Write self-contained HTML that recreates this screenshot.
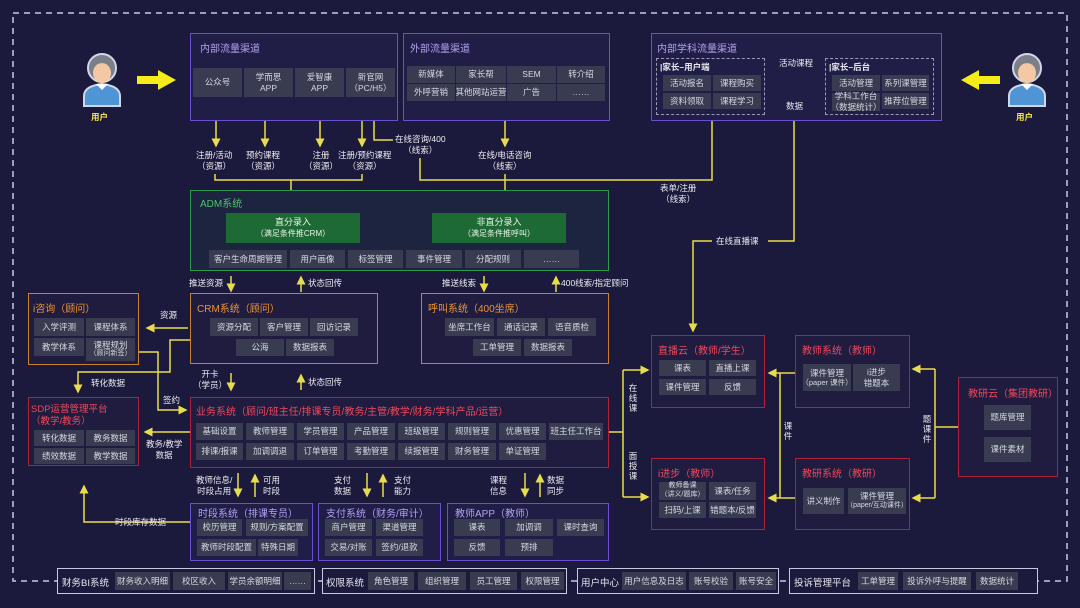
<!DOCTYPE html>
<html><head><meta charset="utf-8">
<style>
*{margin:0;padding:0;box-sizing:border-box}
body{width:1080px;height:608px;background:#1c1a3c;position:relative;overflow:hidden;font-family:"Liberation Sans","Noto Sans CJK SC",sans-serif;color:#e6e6ee}
.b{position:absolute;border:1.5px solid}
.p{border-color:#6a4fd0;background:#201d46}
.r{border-color:#b0203c;background:#201c40}
.o{border-color:#c8802c;background:#201c40}
.w{border-color:#c9c9e4;background:#1c1a3c}
.t{position:absolute;font-size:10px;white-space:nowrap}
.tp{color:#b4a2f0}.tr{color:#f0485a}.to{color:#ec9430}.tg{color:#4cc36b}
.c{position:absolute;background:#393b50;color:#d8d8e2;font-size:8.5px;display:flex;flex-direction:column;align-items:center;justify-content:center;text-align:center;line-height:1.25;white-space:nowrap}
.l{position:absolute;font-size:8.5px;color:#ececf2;text-align:center;line-height:1.35;white-space:nowrap}
.v{position:absolute;font-size:8.5px;color:#ececf2;width:10px;line-height:1.15;text-align:center}
.g{position:absolute;background:#1e6a34;color:#eaf5ea;font-size:9px;display:flex;flex-direction:column;align-items:center;justify-content:center;line-height:1.3}
</style></head><body>
<svg width="1080" height="608" style="position:absolute;left:0;top:0">
<defs><marker id="a" markerWidth="6" markerHeight="6" refX="5" refY="3" orient="auto"><path d="M0,0L6,3L0,6z" fill="#e8dc4a"/></marker></defs>
<rect x="13" y="13" width="1054" height="568" fill="none" stroke="#c9c9e4" stroke-width="1.5" stroke-dasharray="6,5"/>
<g stroke="#e8dc4a" stroke-width="1.5" fill="none">
<path d="M216 99V146" marker-end="url(#a)"/><path d="M265 99V146" marker-end="url(#a)"/><path d="M320 99V146" marker-end="url(#a)"/><path d="M362 99V146" marker-end="url(#a)"/>
<path d="M374 99V140H393"/>
<path d="M505 121V146" marker-end="url(#a)"/>
<path d="M215 174V180H362V174"/><path d="M291 180V205" marker-end="url(#a)"/>
<path d="M420 158V180H712V115"/><path d="M505 174V205" marker-end="url(#a)"/>
<path d="M815 75H773" marker-end="url(#a)"/><path d="M772 98H814" marker-end="url(#a)"/>
<path d="M794 121V241H768"/><path d="M712 241H693V331" marker-end="url(#a)"/>
<path d="M231 276V291" marker-end="url(#a)"/><path d="M301 292V277" marker-end="url(#a)"/>
<path d="M484 276V291" marker-end="url(#a)"/><path d="M556 292V277" marker-end="url(#a)"/>
<path d="M188 328H147" marker-end="url(#a)"/>
<path d="M190 340H170V372H78V392" marker-end="url(#a)"/>
<path d="M139 352H158V410H186" marker-end="url(#a)"/>
<path d="M231 373V390" marker-end="url(#a)"/><path d="M301 390V375" marker-end="url(#a)"/>
<path d="M190 432H145" marker-end="url(#a)"/>
<path d="M190 522H84V486" marker-end="url(#a)"/>
<path d="M238 473V496" marker-end="url(#a)"/><path d="M255 497V475" marker-end="url(#a)"/>
<path d="M367 473V496" marker-end="url(#a)"/><path d="M383 497V475" marker-end="url(#a)"/>
<path d="M525 473V496" marker-end="url(#a)"/><path d="M540 497V475" marker-end="url(#a)"/>
<path d="M609 432H623"/><path d="M623 370V497"/><path d="M623 370H648" marker-end="url(#a)"/><path d="M623 497H648" marker-end="url(#a)"/>
<path d="M795 373H769" marker-end="url(#a)"/><path d="M780 373V498"/><path d="M795 498H769" marker-end="url(#a)"/>
<path d="M958 427H935"/><path d="M935 369V498"/><path d="M935 369H913" marker-end="url(#a)"/><path d="M935 498H913" marker-end="url(#a)"/>
</g>
<g fill="#f5ec1a"><path d="M137 76H158V70L176 80L158 90V84H137z"/><path d="M1000 76H979V70L961 80L979 90V84H1000z"/></g>
<g id="u">
<path d="M84 106V96Q84 86 102 84Q120 86 120 96V106z" fill="#4f95d6" stroke="#cfd8e8" stroke-width="2"/>
<path d="M96 84L102 90L108 84z" fill="#fff"/>
<circle cx="102" cy="68" r="14" fill="#7a7f88" stroke="#cfd8e8" stroke-width="2"/>
<ellipse cx="102" cy="73" rx="9" ry="10" fill="#f4c8a4"/>
<path d="M92 66Q102 56 112 66Q102 60 92 66z" fill="#7a7f88"/>
</g>
<use href="#u" x="925" y="0"/>
</svg>
<div class="l" style="left:91px;top:112px;color:#f5e34a;font-weight:bold">用户</div>
<div class="l" style="left:1016px;top:112px;color:#f5e34a;font-weight:bold">用户</div>

<!-- internal -->
<div class="b p" style="left:190px;top:33px;width:208px;height:88px"></div>
<div class="t tp" style="left:200px;top:40px">内部流量渠道</div>
<div class="c" style="left:193px;top:68px;width:49px;height:29px">公众号</div>
<div class="c" style="left:244px;top:68px;width:49px;height:29px">学而思<br>APP</div>
<div class="c" style="left:295px;top:68px;width:49px;height:29px">爱智康<br>APP</div>
<div class="c" style="left:346px;top:68px;width:49px;height:29px">新官网<br>（PC/H5）</div>
<div class="b p" style="left:403px;top:33px;width:207px;height:88px"></div>
<div class="t tp" style="left:410px;top:40px">外部流量渠道</div>
<div class="c" style="left:407px;top:66px;width:48px;height:17px">新媒体</div>
<div class="c" style="left:456px;top:66px;width:50px;height:17px">家长帮</div>
<div class="c" style="left:507px;top:66px;width:49px;height:17px">SEM</div>
<div class="c" style="left:557px;top:66px;width:48px;height:17px">转介绍</div>
<div class="c" style="left:407px;top:84px;width:48px;height:17px">外呼营销</div>
<div class="c" style="left:456px;top:84px;width:50px;height:17px">其他网站运营</div>
<div class="c" style="left:507px;top:84px;width:49px;height:17px">广告</div>
<div class="c" style="left:557px;top:84px;width:48px;height:17px">……</div>
<div class="l" style="left:196px;top:150px">注册/活动<br>（资源）</div>
<div class="l" style="left:246px;top:150px">预约课程<br>（资源）</div>
<div class="l" style="left:304px;top:150px">注册<br>（资源）</div>
<div class="l" style="left:338px;top:150px">注册/预约课程<br>（资源）</div>
<div class="l" style="left:395px;top:134px">在线咨询/400<br>（线索）</div>
<div class="l" style="left:478px;top:150px">在线/电话咨询<br>（线索）</div>

<!-- subject -->
<div class="b p" style="left:651px;top:33px;width:291px;height:88px"></div>
<div class="t tp" style="left:657px;top:40px">内部学科流量渠道</div>
<div style="position:absolute;left:656px;top:58px;width:109px;height:57px;border:1px dashed #9a9ab8"></div>
<div class="t" style="left:660px;top:61px;font-size:8.5px;font-weight:bold">|家长–用户端</div>
<div class="c" style="left:663px;top:75px;width:48px;height:16px">活动报名</div>
<div class="c" style="left:713px;top:75px;width:48px;height:16px">课程购买</div>
<div class="c" style="left:663px;top:93px;width:48px;height:16px">资料领取</div>
<div class="c" style="left:713px;top:93px;width:48px;height:16px">课程学习</div>
<div style="position:absolute;left:825px;top:58px;width:109px;height:57px;border:1px dashed #9a9ab8"></div>
<div class="t" style="left:829px;top:61px;font-size:8.5px;font-weight:bold">|家长–后台</div>
<div class="c" style="left:832px;top:75px;width:48px;height:16px">活动管理</div>
<div class="c" style="left:882px;top:75px;width:47px;height:16px">系列课管理</div>
<div class="c" style="left:832px;top:93px;width:48px;height:18px">学科工作台<br>（数据统计）</div>
<div class="c" style="left:882px;top:93px;width:47px;height:16px">推荐位管理</div>
<div class="l" style="left:779px;top:58px">活动课程</div>
<div class="l" style="left:786px;top:101px">数据</div>
<div class="l" style="left:660px;top:183px">表单/注册<br>（线索）</div>
<div class="l" style="left:716px;top:236px">在线直播课</div>

<!-- ADM -->
<div class="b" style="left:190px;top:190px;width:419px;height:81px;border-color:#2f9a4c;background:#1c2440"></div>
<div class="t tg" style="left:200px;top:195px">ADM系统</div>
<div class="g" style="left:226px;top:213px;width:134px;height:30px"><span>直分录入</span><span style="font-size:8px">（满足条件推CRM）</span></div>
<div class="g" style="left:432px;top:213px;width:134px;height:30px"><span>非直分录入</span><span style="font-size:8px">（满足条件推呼叫）</span></div>
<div class="c" style="left:209px;top:250px;width:78px;height:18px">客户生命周期管理</div>
<div class="c" style="left:290px;top:250px;width:55px;height:18px">用户画像</div>
<div class="c" style="left:348px;top:250px;width:55px;height:18px">标签管理</div>
<div class="c" style="left:406px;top:250px;width:56px;height:18px">事件管理</div>
<div class="c" style="left:465px;top:250px;width:56px;height:18px">分配规则</div>
<div class="c" style="left:524px;top:250px;width:55px;height:18px">……</div>
<div class="l" style="left:189px;top:278px">推送资源</div>
<div class="l" style="left:308px;top:278px">状态回传</div>
<div class="l" style="left:442px;top:278px">推送线索</div>
<div class="l" style="left:561px;top:278px">400线索/指定顾问</div>

<!-- CRM -->
<div class="b o" style="left:190px;top:293px;width:188px;height:71px"></div>
<div class="t to" style="left:197px;top:300px">CRM系统（顾问）</div>
<div class="c" style="left:210px;top:318px;width:48px;height:18px">资源分配</div>
<div class="c" style="left:260px;top:318px;width:48px;height:18px">客户管理</div>
<div class="c" style="left:310px;top:318px;width:48px;height:18px">回访记录</div>
<div class="c" style="left:236px;top:339px;width:48px;height:17px">公海</div>
<div class="c" style="left:286px;top:339px;width:48px;height:17px">数据报表</div>
<div class="b o" style="left:421px;top:293px;width:188px;height:71px"></div>
<div class="t to" style="left:428px;top:300px">呼叫系统（400坐席）</div>
<div class="c" style="left:445px;top:318px;width:49px;height:18px">坐席工作台</div>
<div class="c" style="left:497px;top:318px;width:48px;height:18px">通话记录</div>
<div class="c" style="left:548px;top:318px;width:48px;height:18px">语音质检</div>
<div class="c" style="left:473px;top:339px;width:48px;height:17px">工单管理</div>
<div class="c" style="left:524px;top:339px;width:48px;height:17px">数据报表</div>
<div class="b o" style="left:28px;top:293px;width:111px;height:72px"></div>
<div class="t to" style="left:33px;top:300px">i咨询（顾问）</div>
<div class="c" style="left:34px;top:318px;width:50px;height:18px">入学评测</div>
<div class="c" style="left:86px;top:318px;width:49px;height:18px">课程体系</div>
<div class="c" style="left:34px;top:338px;width:50px;height:18px">教学体系</div>
<div class="c" style="left:86px;top:338px;width:49px;height:23px">课程规划<span style="font-size:7px">（顾问新签）</span></div>
<div class="l" style="left:160px;top:310px">资源</div>
<div class="l" style="left:91px;top:378px">转化数据</div>
<div class="l" style="left:163px;top:395px">签约</div>
<div class="l" style="left:193px;top:369px">开卡<br>（学员）</div>
<div class="l" style="left:308px;top:377px">状态回传</div>

<!-- SDP -->
<div class="b r" style="left:28px;top:397px;width:111px;height:69px"></div>
<div class="t tr" style="left:31px;top:401px;font-size:9.5px">SDP运营管理平台</div>
<div class="t tr" style="left:31px;top:413px;font-size:9.5px">（教学/教务）</div>
<div class="c" style="left:34px;top:430px;width:50px;height:16px">转化数据</div>
<div class="c" style="left:86px;top:430px;width:49px;height:16px">教务数据</div>
<div class="c" style="left:34px;top:448px;width:50px;height:16px">绩效数据</div>
<div class="c" style="left:86px;top:448px;width:49px;height:16px">教学数据</div>
<div class="l" style="left:146px;top:439px">教务/教学<br>数据</div>
<div class="l" style="left:115px;top:517px">时段库存数据</div>

<!-- business -->
<div class="b r" style="left:190px;top:397px;width:419px;height:71px"></div>
<div class="t tr" style="left:196px;top:403px">业务系统（顾问/班主任/排课专员/教务/主管/教学/财务/学科产品/运营）</div>
<div class="c" style="left:196px;top:423px;width:47px;height:17px">基础设置</div>
<div class="c" style="left:246px;top:423px;width:48px;height:17px">教师管理</div>
<div class="c" style="left:297px;top:423px;width:47px;height:17px">学员管理</div>
<div class="c" style="left:347px;top:423px;width:48px;height:17px">产品管理</div>
<div class="c" style="left:398px;top:423px;width:47px;height:17px">班级管理</div>
<div class="c" style="left:448px;top:423px;width:48px;height:17px">规则管理</div>
<div class="c" style="left:499px;top:423px;width:47px;height:17px">优惠管理</div>
<div class="c" style="left:549px;top:423px;width:54px;height:17px">班主任工作台</div>
<div class="c" style="left:196px;top:443px;width:47px;height:17px">排课/报课</div>
<div class="c" style="left:246px;top:443px;width:48px;height:17px">加调调退</div>
<div class="c" style="left:297px;top:443px;width:47px;height:17px">订单管理</div>
<div class="c" style="left:347px;top:443px;width:48px;height:17px">考勤管理</div>
<div class="c" style="left:398px;top:443px;width:47px;height:17px">续报管理</div>
<div class="c" style="left:448px;top:443px;width:48px;height:17px">财务管理</div>
<div class="c" style="left:499px;top:443px;width:47px;height:17px">单证管理</div>
<div class="l" style="left:196px;top:475px">教师信息/<br>时段占用</div>
<div class="l" style="left:263px;top:475px">可用<br>时段</div>
<div class="l" style="left:334px;top:475px">支付<br>数据</div>
<div class="l" style="left:394px;top:475px">支付<br>能力</div>
<div class="l" style="left:490px;top:475px">课程<br>信息</div>
<div class="l" style="left:547px;top:475px">数据<br>同步</div>

<div class="b p" style="left:190px;top:503px;width:123px;height:58px"></div>
<div class="t tp" style="left:198px;top:505px">时段系统（排课专员）</div>
<div class="c" style="left:197px;top:519px;width:45px;height:17px">校历管理</div>
<div class="c" style="left:246px;top:519px;width:62px;height:17px">规则/方案配置</div>
<div class="c" style="left:197px;top:539px;width:59px;height:17px">教师时段配置</div>
<div class="c" style="left:258px;top:539px;width:40px;height:17px">特殊日期</div>
<div class="b p" style="left:318px;top:503px;width:123px;height:58px"></div>
<div class="t tp" style="left:326px;top:505px">支付系统（财务/审计）</div>
<div class="c" style="left:325px;top:519px;width:47px;height:17px">商户管理</div>
<div class="c" style="left:376px;top:519px;width:47px;height:17px">渠道管理</div>
<div class="c" style="left:325px;top:539px;width:47px;height:17px">交易/对账</div>
<div class="c" style="left:376px;top:539px;width:47px;height:17px">签约/退款</div>
<div class="b p" style="left:447px;top:503px;width:162px;height:58px"></div>
<div class="t tp" style="left:455px;top:505px">教师APP（教师）</div>
<div class="c" style="left:454px;top:519px;width:46px;height:17px">课表</div>
<div class="c" style="left:505px;top:519px;width:48px;height:17px">加调调</div>
<div class="c" style="left:557px;top:519px;width:47px;height:17px">课时查询</div>
<div class="c" style="left:454px;top:539px;width:46px;height:17px">反馈</div>
<div class="c" style="left:505px;top:539px;width:48px;height:17px">预排</div>

<!-- right -->
<div class="b r" style="left:651px;top:335px;width:114px;height:73px"></div>
<div class="t tr" style="left:658px;top:342px">直播云（教师/学生）</div>
<div class="c" style="left:659px;top:360px;width:47px;height:16px">课表</div>
<div class="c" style="left:709px;top:360px;width:47px;height:16px">直播上课</div>
<div class="c" style="left:659px;top:379px;width:47px;height:16px">课件管理</div>
<div class="c" style="left:709px;top:379px;width:47px;height:16px">反馈</div>
<div class="b r" style="left:795px;top:335px;width:115px;height:73px"></div>
<div class="t tr" style="left:802px;top:342px">教师系统（教师）</div>
<div class="c" style="left:803px;top:364px;width:48px;height:27px">课件管理<span style="font-size:7.5px">（paper 课件）</span></div>
<div class="c" style="left:853px;top:364px;width:47px;height:27px">i进步<br>错题本</div>
<div class="b r" style="left:958px;top:377px;width:100px;height:100px"></div>
<div class="t tr" style="left:968px;top:385px">教研云（集团教研）</div>
<div class="c" style="left:984px;top:405px;width:47px;height:25px">题库管理</div>
<div class="c" style="left:984px;top:437px;width:47px;height:25px">课件素材</div>
<div class="b r" style="left:651px;top:458px;width:114px;height:72px"></div>
<div class="t tr" style="left:658px;top:465px">i进步（教师）</div>
<div class="c" style="left:659px;top:482px;width:47px;height:18px;font-size:7px">教师备课<span>（讲义/题库）</span></div>
<div class="c" style="left:709px;top:482px;width:47px;height:18px">课表/任务</div>
<div class="c" style="left:659px;top:502px;width:47px;height:16px">扫码/上课</div>
<div class="c" style="left:709px;top:502px;width:47px;height:16px">错题本/反馈</div>
<div class="b r" style="left:795px;top:458px;width:115px;height:72px"></div>
<div class="t tr" style="left:802px;top:465px">教研系统（教研）</div>
<div class="c" style="left:803px;top:488px;width:41px;height:26px">讲义制作</div>
<div class="c" style="left:848px;top:488px;width:58px;height:26px">课件管理<span style="font-size:7px">（paper/互动课件）</span></div>
<div class="v" style="left:628px;top:384px">在线课</div>
<div class="v" style="left:628px;top:452px">面授课</div>
<div class="v" style="left:783px;top:422px">课件</div>
<div class="v" style="left:922px;top:415px">题课件</div>

<!-- bottom -->
<div class="b w" style="left:57px;top:568px;width:258px;height:26px"></div>
<div class="t" style="left:62px;top:575px;font-size:9.5px">财务BI系统</div>
<div class="c" style="left:115px;top:572px;width:55px;height:18px">财务收入明细</div>
<div class="c" style="left:173px;top:572px;width:52px;height:18px">校区收入</div>
<div class="c" style="left:228px;top:572px;width:54px;height:18px">学员余额明细</div>
<div class="c" style="left:284px;top:572px;width:27px;height:18px">……</div>
<div class="b w" style="left:322px;top:568px;width:245px;height:26px"></div>
<div class="t" style="left:326px;top:575px;font-size:9.5px">权限系统</div>
<div class="c" style="left:368px;top:572px;width:46px;height:18px">角色管理</div>
<div class="c" style="left:418px;top:572px;width:48px;height:18px">组织管理</div>
<div class="c" style="left:470px;top:572px;width:47px;height:18px">员工管理</div>
<div class="c" style="left:521px;top:572px;width:43px;height:18px">权限管理</div>
<div class="b w" style="left:577px;top:568px;width:202px;height:26px"></div>
<div class="t" style="left:581px;top:575px;font-size:9.5px">用户中心</div>
<div class="c" style="left:622px;top:572px;width:64px;height:18px">用户信息及日志</div>
<div class="c" style="left:689px;top:572px;width:44px;height:18px">账号校验</div>
<div class="c" style="left:736px;top:572px;width:40px;height:18px">账号安全</div>
<div class="b w" style="left:789px;top:568px;width:249px;height:26px"></div>
<div class="t" style="left:794px;top:575px;font-size:9.5px">投诉管理平台</div>
<div class="c" style="left:858px;top:572px;width:40px;height:18px">工单管理</div>
<div class="c" style="left:903px;top:572px;width:68px;height:18px">投诉外呼与提醒</div>
<div class="c" style="left:976px;top:572px;width:42px;height:18px">数据统计</div>
</body></html>
